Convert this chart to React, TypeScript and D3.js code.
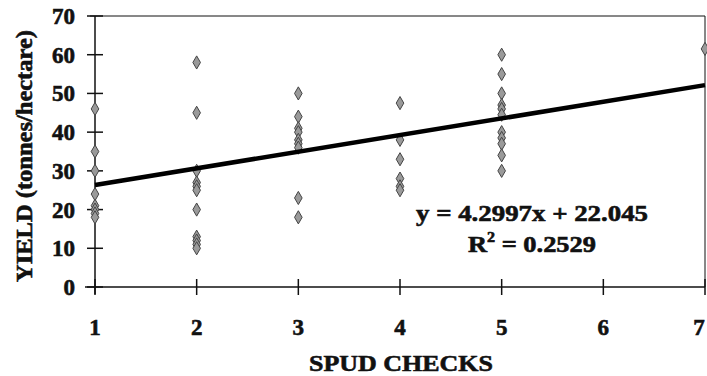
import React, { useEffect, useRef } from "react";
import * as d3 from "d3";

// spud checks (x) and yield values
const col1 = [46, 35, 30, 24, 21, 20, 19, 18];
const col2 = [58, 45, 30, 27, 26, 25, 20, 13, 12, 11, 10];
const col3 = [50, 44, 41, 40, 38, 37, 36, 23, 18];
const col4 = [47.5, 38, 33, 28, 26, 25];
const col5 = [60, 55, 50, 47, 46, 44.5, 40, 38.5, 37, 34, 30];
const col7 = [61.5];
const checks = [1, 2, 3, 4, 5, 7];
const xTicks = [1, 2, 3, 4, 5, 6, 7];
const yTicks = [0, 10, 20, 30, 40, 50, 60, 70];
const slope = 4.2997;
const intercept = 22.045;
const eqText = "y = 4.2997x + 22.045";
const r2Value = "0.2529";

const App = () => {
  const ref = useRef<SVGSVGElement>(null);

  useEffect(() => {
    const svg = d3.select(ref.current);
    svg.selectAll("*").remove();

    const width = 707;
    const height = 376;
    const margin = { top: 16, right: 2, bottom: 89, left: 95 };
    const font = "Liberation Serif";

    const x = d3
      .scaleLinear()
      .domain([1, 7])
      .range([margin.left, width - margin.right]);
    const y = d3
      .scaleLinear()
      .domain([0, 70])
      .range([height - margin.bottom, margin.top]);

    const cols = [col1, col2, col3, col4, col5, col7];
    const points = cols.flatMap((vals, i) => vals.map((v) => ({ x: checks[i], y: v })));

    // bold text helper, a little stroke to get the heavy scanned look
    const txt = (sel, size) =>
      sel
        .attr("font-family", font)
        .attr("font-weight", "bold")
        .attr("font-size", size)
        .attr("fill", "#111")
        .attr("stroke", "#111")
        .attr("stroke-width", 0.6);

    // frame top/right
    svg
      .append("path")
      .attr("d", `M${x(1) - 5},${y(70)}H${x(7)}V${y(0)}`)
      .attr("fill", "none")
      .attr("stroke", "#111")
      .attr("stroke-width", 1);

    // x axis
    svg
      .append("line")
      .attr("x1", x(1) - 10)
      .attr("x2", x(7))
      .attr("y1", y(0))
      .attr("y2", y(0))
      .attr("stroke", "#111")
      .attr("stroke-width", 1.5);
    svg
      .selectAll(".xt")
      .data(xTicks)
      .enter()
      .append("line")
      .attr("x1", (d) => x(d))
      .attr("x2", (d) => x(d))
      .attr("y1", y(0) - 8)
      .attr("y2", y(0) + 8)
      .attr("stroke", "#111")
      .attr("stroke-width", 1.5);
    svg
      .selectAll(".xl")
      .data(xTicks)
      .enter()
      .append("text")
      .attr("x", (d) => Math.min(x(d), width - 8))
      .attr("y", y(0) + 48)
      .attr("text-anchor", "middle")
      .call(txt, 23)
      .text((d) => d);

    // y axis
    svg
      .append("line")
      .attr("x1", x(1))
      .attr("x2", x(1))
      .attr("y1", y(70))
      .attr("y2", y(0) + 7)
      .attr("stroke", "#111")
      .attr("stroke-width", 1.5);
    svg
      .selectAll(".yt")
      .data(yTicks)
      .enter()
      .append("line")
      .attr("x1", x(1) - 8)
      .attr("x2", x(1) + 8)
      .attr("y1", (d) => y(d))
      .attr("y2", (d) => y(d))
      .attr("stroke", "#111")
      .attr("stroke-width", 1.5);
    svg
      .selectAll(".yl")
      .data(yTicks)
      .enter()
      .append("text")
      .attr("x", x(1) - 20)
      .attr("y", (d) => y(d) + 8)
      .attr("text-anchor", "end")
      .call(txt, 23)
      .text((d) => d);

    // points
    const sym = d3.symbol().type(d3.symbolDiamond).size(50);
    svg
      .selectAll(".pt")
      .data(points)
      .enter()
      .append("path")
      .attr("d", sym)
      .attr("transform", (d) => `translate(${x(d.x)},${y(d.y)})`)
      .attr("fill", "#9a9a9a")
      .attr("stroke", "#444")
      .attr("stroke-width", 1);

    // trend line
    const line = d3
      .line<number>()
      .x((d) => x(d))
      .y((d) => y(slope * d + intercept));
    svg
      .append("path")
      .attr("d", line([1, 7]))
      .attr("fill", "none")
      .attr("stroke", "#000")
      .attr("stroke-width", 4.5);

    // equation
    const eq = svg.append("g").attr("text-anchor", "middle");
    eq.append("text")
      .attr("x", 532)
      .attr("y", 221)
      .call(txt, 23)
      .attr("textLength", 232)
      .attr("lengthAdjust", "spacingAndGlyphs")
      .text(eqText);
    const r2 = eq
      .append("text")
      .attr("x", 532)
      .attr("y", 252)
      .call(txt, 23)
      .attr("textLength", 128)
      .attr("lengthAdjust", "spacingAndGlyphs");
    r2.append("tspan").text("R");
    r2.append("tspan").attr("font-size", 14).attr("dy", -10).text("2");
    r2.append("tspan").attr("dy", 10).text(` = ${r2Value}`);

    // axis titles
    svg
      .append("text")
      .attr("x", 401)
      .attr("y", 371)
      .attr("text-anchor", "middle")
      .call(txt, 24)
      .attr("textLength", 184)
      .attr("lengthAdjust", "spacingAndGlyphs")
      .text("SPUD CHECKS");
    svg
      .append("text")
      .attr("transform", "translate(32,156) rotate(-90)")
      .attr("text-anchor", "middle")
      .call(txt, 24)
      .attr("textLength", 252)
      .attr("lengthAdjust", "spacingAndGlyphs")
      .text("YIELD (tonnes/hectare)");
  }, []);

  return (
    <svg
      ref={ref}
      width={707}
      height={376}
      style={{ position: "absolute", left: 0, top: 0, background: "#fff" }}
    ></svg>
  );
};

export default App;
